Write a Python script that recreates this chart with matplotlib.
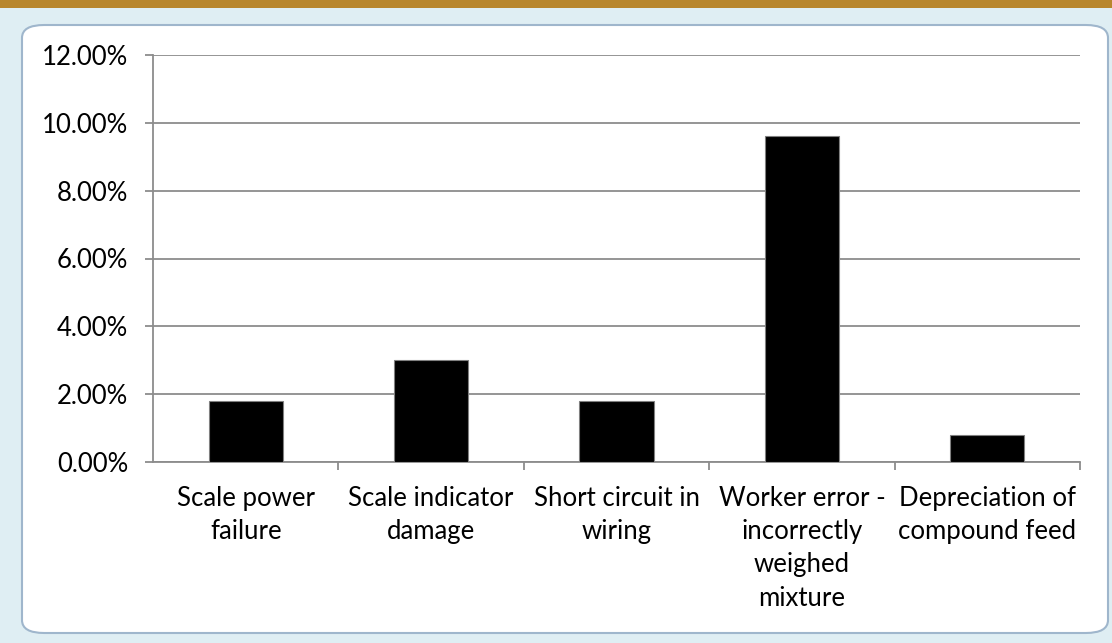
import matplotlib
matplotlib.use("Agg")
import matplotlib.pyplot as plt
from matplotlib.patches import FancyBboxPatch, Rectangle
from matplotlib.ticker import FuncFormatter, MultipleLocator
import numpy as np

categories = ["Scale power\nfailure", "Scale indicator\ndamage", "Short circuit in\nwiring",
              "Worker error -\nincorrectly\nweighed\nmixture", "Depreciation of\ncompound feed"]
values = [0.018, 0.030, 0.018, 0.096, 0.008]

W, H = 1112, 643
fig = plt.figure(figsize=(W / 100, H / 100), dpi=100)
fig.patch.set_facecolor("#dfeef3")

# Excel-like chrome: top band and chart area frame
fig.add_artist(Rectangle((0, 1 - 8 / H), 1, 8 / H, transform=fig.transFigure,
                         facecolor="#b8862c", edgecolor="none", zorder=-5))
fig.add_artist(FancyBboxPatch((22 / W, 10 / H), (1108 - 22) / W, (633 - 25) / H,
                              boxstyle="round,pad=0,rounding_size=0.02",
                              transform=fig.transFigure, facecolor="white",
                              edgecolor="#9fb6cc", linewidth=1.5, zorder=-5))

ax = fig.add_axes([153 / W, 1 - 462 / H, (1080 - 153) / W, (462 - 55) / H])
ax.set_zorder(5)
ax.set_facecolor("none")
x = np.arange(len(categories))
ax.bar(x, values, width=0.4, color="black", edgecolor="#808080", linewidth=0.8, zorder=3)
ax.set_xlim(-0.5, len(categories) - 0.5)
ax.set_ylim(0, 0.12)
ax.yaxis.set_major_locator(MultipleLocator(0.02))
ax.yaxis.set_major_formatter(FuncFormatter(lambda v, p: f"{v*100:.2f}%"))
ax.grid(axis="y", color="#8c8c8c", linewidth=1.3, zorder=0)
for s in ["top", "right"]:
    ax.spines[s].set_visible(False)
for s in ["left", "bottom"]:
    ax.spines[s].set_color("#8c8c8c")
    ax.spines[s].set_linewidth(1.3)

ax.set_xticks(x)
ax.set_xticklabels(categories, fontsize=18.5, family="Lato", linespacing=1.42,
                   va="top", color="black")
ax.tick_params(axis="x", length=0, pad=17)
ax.set_xticks(np.arange(len(categories)) + 0.5, minor=True)
ax.tick_params(axis="x", which="minor", length=6, width=1.3, color="#8c8c8c", direction="out")
ax.tick_params(axis="y", length=6, width=1.3, color="#8c8c8c", direction="out", pad=12)
for lab in ax.get_yticklabels():
    lab.set_fontsize(18.5)
    lab.set_family("Lato")

fig.savefig("out.png", dpi=100, facecolor=fig.get_facecolor())
